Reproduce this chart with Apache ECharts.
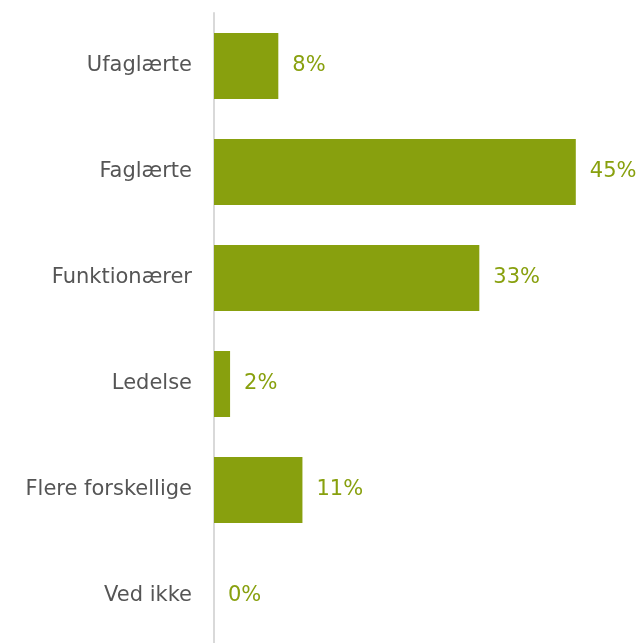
<!DOCTYPE html>
<html><head><meta charset="utf-8">
<script src="https://cdn.jsdelivr.net/npm/echarts@6/dist/echarts.min.js"></script>
<style>html,body{margin:0;padding:0;background:#fff;overflow:hidden;width:638px;height:643px}#c{width:638px;height:649px}</style>
</head><body><div id="c"></div>
<script>
const categories = ["Ufaglærte", "Faglærte", "Funktionærer", "Ledelse", "Flere forskellige", "Ved ikke"];
const values = [8, 45, 33, 2, 11, 0];

const chart = echarts.init(document.getElementById('c'));
chart.setOption({
  animation: false,
  grid: { left: 214, width: 402, top: 13, bottom: 0 },
  xAxis: { type: 'value', min: 0, max: 50, show: false },
  yAxis: {
    type: 'category', data: categories, inverse: true,
    axisLine: { show: true, lineStyle: { color: '#d9d9d9', width: 2 } },
    axisTick: { show: false },
    axisLabel: { color: '#555555', fontSize: 21, fontFamily: 'DejaVu Sans', margin: 22 }
  },
  series: [{
    type: 'bar', data: values, barWidth: 66,
    itemStyle: { color: '#88a00e' },
    label: { show: true, position: 'right', distance: 14, formatter: '{c}%', color: '#88a00e', fontSize: 21, fontFamily: 'DejaVu Sans' }
  }]
});
</script></body></html>
